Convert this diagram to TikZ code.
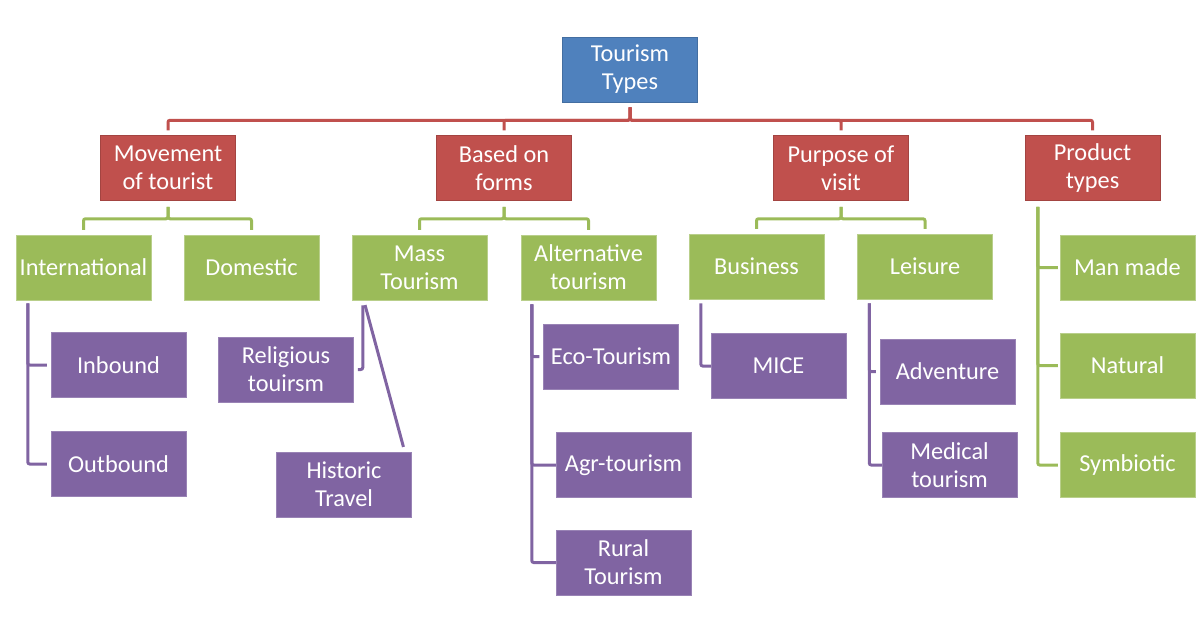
\documentclass[tikz,border=0pt]{standalone}
\usepackage{fontspec}
\setmainfont{Carlito}
\definecolor{cblue}{HTML}{4F81BD}
\definecolor{cred}{HTML}{C0504D}
\definecolor{cgreen}{HTML}{9BBB59}
\definecolor{cpurple}{HTML}{8064A2}
\begin{document}
\begin{tikzpicture}[x=1pt,y=-1pt,
  box/.style={minimum width=135pt,minimum height=65pt,inner sep=0pt,align=center,
    text=white,font=\fontsize{24.3}{28}\selectfont,line width=0.5pt},
  topbox/.style={box,fill=cblue,draw=cblue!85!black},
  redbox/.style={box,fill=cred,draw=cred!85!black},
  greenbox/.style={box,fill=cgreen,draw=cgreen!70!white},
  purplebox/.style={box,fill=cpurple,draw=cpurple!80!white},
  link/.style={line width=3pt,rounded corners=2pt},
  redlink/.style={link,draw=cred,shorten <=5pt,shorten >=5pt},
  greenlink/.style={link,draw=cgreen},
  purplelink/.style={link,draw=cpurple}]
\useasboundingbox (0,0) rectangle (1200,630);
% level 0
\node[topbox] (tt) at (630,69.5) {Tourism\\Types};
% level 1
\node[redbox] (mov) at (168,168) {Movement\\of tourist};
\node[redbox] (bas) at (504,168) {Based on\\forms};
\node[redbox] (pur) at (841,168) {Purpose of\\visit};
\node[redbox] (pro) at (1092.5,168) {Product\\types};
% level 2
\node[greenbox] (intl) at (83.5,267.5) {International};
\node[greenbox] (dom) at (251.5,267.5) {Domestic};
\node[greenbox] (mass) at (419.5,267.5) {Mass\\Tourism};
\node[greenbox] (alt) at (588.5,267.5) {Alternative\\tourism};
\node[greenbox] (bus) at (756.5,266.5) {Business};
\node[greenbox] (lei) at (925,266.5) {Leisure};
\node[greenbox] (man) at (1127.5,267.5) {Man made};
\node[greenbox] (nat) at (1127.5,365.5) {Natural};
\node[greenbox] (sym) at (1127.5,465) {Symbiotic};
% level 3
\node[purplebox] (inb) at (118.5,365) {Inbound};
\node[purplebox] (outb) at (118.5,464) {Outbound};
\node[purplebox] (rel) at (286,369.5) {Religious\\touirsm};
\node[purplebox] (his) at (344,484.5) {Historic\\Travel};
\node[purplebox] (eco) at (611,356.5) {Eco-Tourism};
\node[purplebox] (agr) at (623.5,465) {Agr-tourism};
\node[purplebox] (rur) at (623.5,562.5) {Rural\\Tourism};
\node[purplebox] (mice) at (778.5,366) {MICE};
\node[purplebox] (adv) at (947.5,371.5) {Adventure};
\node[purplebox] (med) at (949.5,465) {Medical\\tourism};
% red connectors
\foreach \c in {mov,bas,pur,pro}
  \draw[redlink] (tt.south) -- ++(0,18) -| (\c.north);
% green connectors
\foreach \p/\a/\b in {mov/intl/dom,bas/mass/alt,pur/bus/lei}{
  \draw[greenlink,shorten <=6pt,shorten >=5pt] (\p.south) -- ++(0,18) -| (\a.north);
  \draw[greenlink,shorten <=6pt,shorten >=5pt] (\p.south) -- ++(0,18) -| (\b.north);
}
\foreach \c in {man,nat,sym}
  \draw[greenlink,shorten <=6pt,shorten >=2pt] ([xshift=13pt]pro.south west) |- (\c.west);
% purple connectors
\foreach \c in {inb,outb}
  \draw[purplelink,shorten <=3pt,shorten >=4pt] ([xshift=12pt]intl.south west) |- (\c.west);
\draw[purplelink,shorten <=5pt,shorten >=4pt] ([xshift=11pt]mass.south west) |- (rel.east);
\draw[purplelink,shorten <=5pt,shorten >=5pt] ([xshift=12pt]mass.south west) -- ([xshift=-7pt]his.north east);
\draw[purplelink,shorten <=4pt,shorten >=4pt] ([xshift=11pt]alt.south west) |- (eco.west);
\foreach \c in {agr,rur}
  \draw[purplelink,shorten <=4pt] ([xshift=11pt]alt.south west) |- (\c.west);
\draw[purplelink,shorten <=4pt] ([xshift=12pt]bus.south west) |- (mice.west);
\draw[purplelink,shorten <=4pt,shorten >=4pt] ([xshift=12pt]lei.south west) |- (adv.west);
\draw[purplelink,shorten <=4pt] ([xshift=12pt]lei.south west) |- (med.west);
\end{tikzpicture}
\end{document}
